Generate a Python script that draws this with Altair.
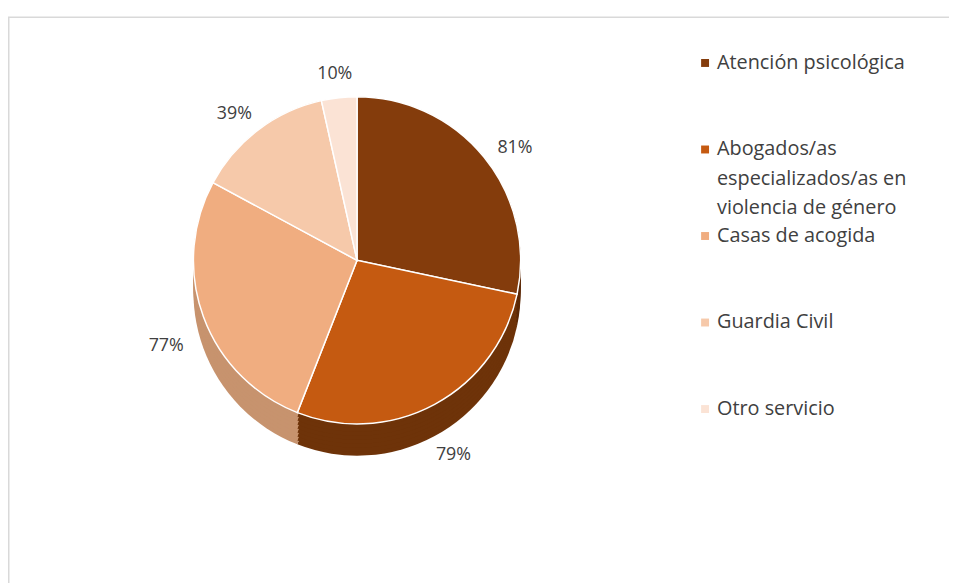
import altair as alt
import pandas as pd

# ---- data ----
categories = ["Atención psicológica",
              "Abogados/as especializados/as en violencia de género",
              "Casas de acogida",
              "Guardia Civil",
              "Otro servicio"]
legend_labels = ["Atención psicológica",
                 "Abogados/as\nespecializados/as en\nviolencia de género",
                 "Casas de acogida",
                 "Guardia Civil",
                 "Otro servicio"]
values = [81, 79, 77, 39, 10]
pct_labels = ["81%", "79%", "77%", "39%", "10%"]
top_colors = ["#843C0C", "#C55A11", "#F0AD80", "#F6C9AA", "#FBE3D5"]
side_colors = ["#5C2907", "#6E3309", "#C7936E", "#D9A888", "#E5C8B5"]

df = pd.DataFrame({
    "idx": list(range(len(categories))),
    "cat": categories,
    "legend": legend_labels,
    "value": values,
    "pct": pct_labels,
    "top": top_colors,
    "side": side_colors,
})

W, H = 949, 575
CX, CY = 352, 252      # pie centre (view coords)
R = 165
DEPTH = 32
FONT = "Open Sans"
TXT = "#404040"

base = alt.Chart(df)

theta = alt.Theta("value:Q", stack=True)
order = alt.Order("idx:Q", sort="ascending")

frame = alt.Chart(pd.DataFrame({"a": [0]})).mark_rect(
    fill=None, stroke="#D9D9D9", strokeWidth=1.5
).encode(x=alt.value(0.75), y=alt.value(7), x2=alt.value(1000), y2=alt.value(700))

side_layers = []
for k in range(0, DEPTH + 1, 4):
    side_layers.append(base.mark_arc(outerRadius=R).encode(
        theta=theta, order=order,
        color=alt.Color("side:N", scale=None),
        x=alt.value(CX), y=alt.value(CY + DEPTH - k),
    ))
top = base.mark_arc(outerRadius=R, stroke="#FFFFFF", strokeWidth=1.5).encode(
    theta=theta, order=order,
    color=alt.Color("top:N", scale=None),
    x=alt.value(CX), y=alt.value(CY),
)
labels = base.mark_text(radius=R + 40, font=FONT, fontSize=18, color=TXT).encode(
    theta=theta, order=order,
    text="pct:N",
    x=alt.value(CX), y=alt.value(CY + DEPTH / 2),
)

yscale = alt.Scale(domain=[0, 4], range=[53, 402])
leg_sym = base.mark_square(size=64, opacity=1).encode(
    x=alt.value(703),
    y=alt.Y("idx:Q", scale=yscale, axis=None),
    color=alt.Color("top:N", scale=None),
)
leg_txt = base.mark_text(align="left", baseline="top", dy=-10, font=FONT,
                         fontSize=20, color=TXT, lineBreak="\n",
                         lineHeight=29.5).encode(
    x=alt.value(715),
    y=alt.Y("idx:Q", scale=yscale, axis=None),
    text="legend:N",
)

chart = alt.layer(frame, *side_layers, top, labels, leg_sym, leg_txt).properties(
    width=W, height=H,
    autosize=alt.AutoSizeParams(type="none"),
    padding=0,
).configure_view(stroke=None)

chart.save("out.html", embed_options={"renderer": "svg", "actions": False})
